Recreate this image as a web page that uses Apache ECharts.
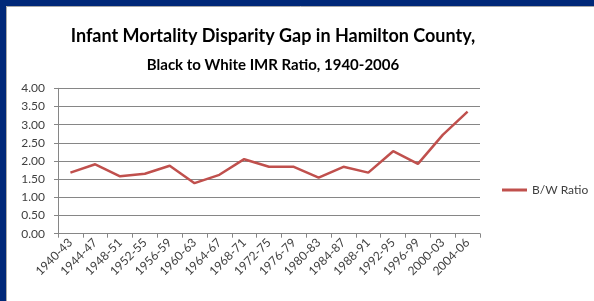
<!DOCTYPE html>
<html><head><meta charset="utf-8">
<script src="https://cdn.jsdelivr.net/npm/echarts@6/dist/echarts.min.js"></script>
<style>html,body{margin:0;padding:0;background:#fff}#c{width:594px;height:301px}</style>
</head><body><div id="c"></div>
<script>
const categories = ['1940-43','1944-47','1948-51','1952-55','1956-59','1960-63','1964-67','1968-71','1972-75','1976-79','1980-83','1984-87','1988-91','1992-95','1996-99','2000-03','2004-06'];
const ratioValues = [1.68,1.91,1.58,1.65,1.87,1.39,1.62,2.05,1.84,1.84,1.54,1.84,1.68,2.27,1.92,2.72,3.36];
const seriesName = 'B/W Ratio';
const titleLine1 = 'Infant Mortality Disparity Gap in Hamilton County,';
const titleLine2 = 'Black to White IMR Ratio, 1940-2006';

const chart = echarts.init(document.getElementById('c'), null, {renderer:'canvas'});
chart.setOption({
  backgroundColor:'#fff',
  animation:false,
  graphic:[
    {type:'rect', shape:{x:0,y:0,width:594,height:6}, style:{fill:'#002878'}},
    {type:'rect', shape:{x:0,y:0,width:6,height:301}, style:{fill:'#002878'}},
    {type:'line', shape:{x1:6.5,y1:6.5,x2:594,y2:6.5}, style:{stroke:'#a8a8a8',lineWidth:1}},
    {type:'line', shape:{x1:6.5,y1:6.5,x2:6.5,y2:301}, style:{stroke:'#a8a8a8',lineWidth:1}}
  ],
  title:[
    {text:titleLine1, left:268, textAlign:'center', top:22,
     textStyle:{fontFamily:'Lato', fontWeight:'bold', fontSize:18, color:'#000'}},
    {text:titleLine2, left:268, textAlign:'center', top:53,
     textStyle:{fontFamily:'Lato', fontWeight:'bold', fontSize:15, color:'#000'}}
  ],
  legend:{
    data:[seriesName], left:497, top:179, itemWidth:25, itemHeight:3, itemGap:0,
    icon:'rect',
    textStyle:{fontFamily:'Lato', fontSize:12, color:'#404040'}
  },
  grid:{left:58, right:114, top:88.3, bottom:67.3},
  xAxis:{
    type:'category', data:categories, boundaryGap:true,
    axisLine:{lineStyle:{color:'#868686'}},
    axisTick:{show:true, length:4, alignWithLabel:false, lineStyle:{color:'#868686'}},
    axisLabel:{rotate:45, interval:0, fontFamily:'Lato', fontSize:12, color:'#404040', margin:7}
  },
  yAxis:{
    type:'value', min:0, max:4, interval:0.5,
    axisLine:{show:true, lineStyle:{color:'#868686'}},
    axisTick:{show:true, length:4, lineStyle:{color:'#868686'}},
    splitLine:{lineStyle:{color:'#868686'}},
    axisLabel:{formatter:v=>v.toFixed(2), fontFamily:'Lato', fontSize:12, color:'#404040', margin:13}
  },
  series:[{
    name:seriesName, type:'line', data:ratioValues, symbol:'none',
    lineStyle:{color:'#C0504D', width:2.5}, itemStyle:{color:'#C0504D'}
  }]
});
</script></body></html>
